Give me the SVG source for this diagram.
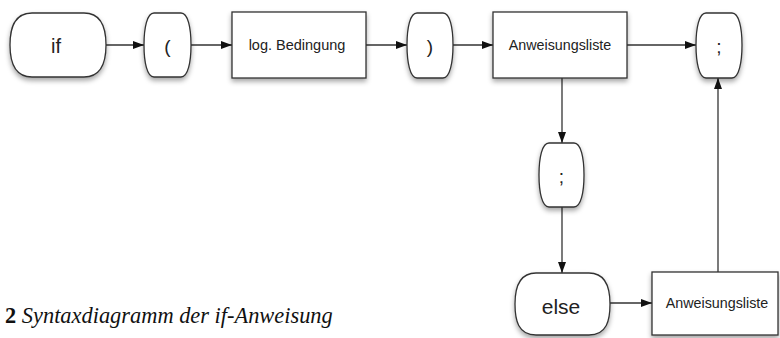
<svg xmlns="http://www.w3.org/2000/svg" width="780" height="338" viewBox="0 0 780 338">
<style>
.n{fill:#fff;stroke:#333;stroke-width:1.3;filter:url(#sh)}
.t{font-family:"Liberation Sans",Arial,sans-serif;fill:#222;text-anchor:middle;dominant-baseline:central}
.c{stroke:#333;stroke-width:1.3;fill:none;marker-end:url(#ah)}
.cap{font-family:"Liberation Serif","Times New Roman",serif;font-size:22.4px;fill:#111}
</style>
<defs>
<filter id="sh" x="-20%" y="-20%" width="140%" height="150%">
<feDropShadow dx="0" dy="3" stdDeviation="2.5" flood-color="#000" flood-opacity="0.35"/>
</filter>
<marker id="ah" markerWidth="11" markerHeight="8" refX="11" refY="4" orient="auto" markerUnits="userSpaceOnUse">
<path d="M0,0 L11,4 L0,8 Z" fill="#111"/>
</marker>
</defs>
<g id="connectors">
<line class="c" x1="106" y1="45" x2="144" y2="45"/>
<line class="c" x1="191" y1="45" x2="232" y2="45"/>
<line class="c" x1="366" y1="45" x2="407" y2="45"/>
<line class="c" x1="453" y1="45" x2="493" y2="45"/>
<line class="c" x1="627" y1="45" x2="696" y2="45"/>
<line class="c" x1="562" y1="78" x2="562" y2="143"/>
<line class="c" x1="562" y1="207" x2="562" y2="273"/>
<line class="c" x1="610" y1="303" x2="652" y2="303"/>
<line class="c" x1="718" y1="272" x2="718" y2="78"/>
</g>
<g id="n-if">
<path class="n" d="M32,13 H84 C103,13 106,30 106,45 C106,60 103,77 84,77 H32 C13,77 10,60 10,45 C10,30 13,13 32,13 Z"/>
<text class="t" x="56" y="46" font-size="20">if</text>
</g>
<g id="n-lp">
<path class="n" d="M154,13 H181 C188,13 191,28 191,45 C191,62 188,77 181,77 H154 C147,77 144,62 144,45 C144,28 147,13 154,13 Z"/>
<text class="t" x="167.5" y="46" font-size="19">(</text>
</g>
<g id="n-bed">
<rect class="n" x="232" y="12" width="134" height="66"/>
<text class="t" x="297" y="45" font-size="14.5">log. Bedingung</text>
</g>
<g id="n-rp">
<path class="n" d="M417,13 H443 C450,13 453,28 453,45 C453,62 450,78 443,78 H417 C410,78 407,62 407,45 C407,28 410,13 417,13 Z"/>
<text class="t" x="430" y="46" font-size="19">)</text>
</g>
<g id="n-anw1">
<rect class="n" x="493" y="12" width="134" height="66"/>
<text class="t" x="560" y="45" font-size="14.3">Anweisungsliste</text>
</g>
<g id="n-semi1">
<path class="n" d="M706,13 H732 C739,13 742,28 742,45 C742,62 739,78 732,78 H706 C699,78 696,62 696,45 C696,28 699,13 706,13 Z"/>
<text class="t" x="719" y="46" font-size="19">;</text>
</g>
<g id="n-semi2">
<path class="n" d="M549,143 H574 C581,143 584,158 584,175 C584,192 581,207 574,207 H549 C542,207 539,192 539,175 C539,158 542,143 549,143 Z"/>
<text class="t" x="561.5" y="176" font-size="19">;</text>
</g>
<g id="n-else">
<path class="n" d="M536,273 H589 C607,273 610,290 610,304 C610,320 607,335 589,335 H536 C518,335 515,320 515,304 C515,290 518,273 536,273 Z"/>
<text class="t" x="561" y="306" font-size="21">else</text>
</g>
<g id="n-anw2">
<rect class="n" x="652" y="272" width="126" height="63"/>
<text class="t" x="717" y="303" font-size="14.3">Anweisungsliste</text>
</g>
<text class="cap" x="5" y="323"><tspan font-weight="bold">2</tspan> <tspan font-style="italic">Syntaxdiagramm der if-Anweisung</tspan></text>
</svg>
